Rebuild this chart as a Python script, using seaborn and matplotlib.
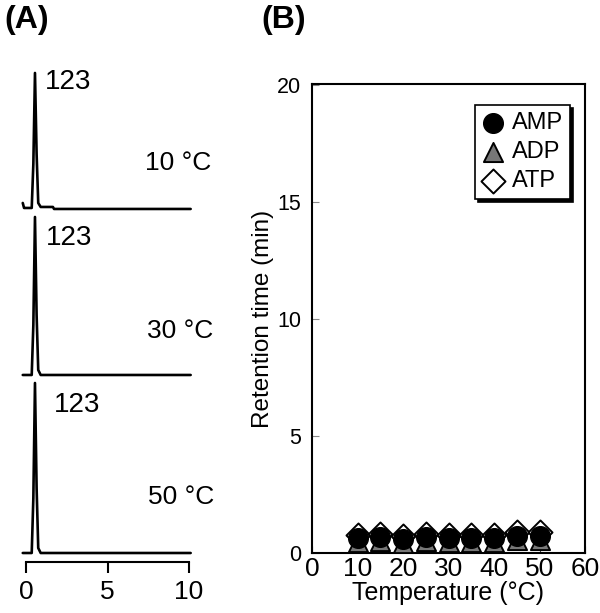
import numpy as np
import pandas as pd
import matplotlib
matplotlib.use("Agg")
import matplotlib.pyplot as plt
import seaborn as sns

# ---------------- data ----------------
# Panel A: chromatogram traces (time in min, signal in arbitrary units)
trace_labels = ["10 \u00b0C", "30 \u00b0C", "50 \u00b0C"]
time_10 = [-0.2, -0.12, -0.02, 0.35, 0.45, 0.55, 0.65, 0.75, 0.9, 1.65, 1.72, 10.1]
sig_10 = [6, 1, 1, 1, 45, 136, 55, 6, 2, 2, 0, 0]
time_30 = [-0.2, 0.35, 0.45, 0.55, 0.65, 0.75, 0.9, 10.1]
sig_30 = [0, 0, 50, 158, 60, 5, 0, 0]
time_50 = [-0.2, 0.35, 0.45, 0.55, 0.65, 0.75, 0.9, 10.1]
sig_50 = [0, 0, 55, 170, 65, 5, 0, 0]
peak_label = "123"

# Panel B: retention time vs temperature
temperature = [10, 15, 20, 25, 30, 35, 40, 45, 50]
amp = [0.62, 0.67, 0.60, 0.67, 0.65, 0.65, 0.64, 0.72, 0.74]
adp = [0.45, 0.50, 0.42, 0.50, 0.48, 0.48, 0.47, 0.55, 0.55]
atp = [0.75, 0.82, 0.72, 0.80, 0.78, 0.78, 0.76, 0.88, 0.88]

# ---------------- style ----------------
sns.set_style("ticks")
plt.rcParams["font.family"] = ["Liberation Sans", "DejaVu Sans"]
plt.rcParams["axes.unicode_minus"] = False
plt.rcParams["text.color"] = "black"
plt.rcParams["axes.labelcolor"] = "black"
plt.rcParams["xtick.color"] = "black"
plt.rcParams["ytick.color"] = "black"

fig = plt.figure(figsize=(6.0, 6.13), dpi=100)

# ---------------- Panel A ----------------
axA = fig.add_axes([0.0352, 0.0832, 0.288, 0.819])
offsets = [353, 187, 9]  # vertical stacking of traces (layout)
traces = [(time_10, sig_10), (time_30, sig_30), (time_50, sig_50)]
for (t, s), off in zip(traces, offsets):
    df = pd.DataFrame({"t": t, "y": np.array(s, dtype=float) + off})
    sns.lineplot(data=df, x="t", y="y", ax=axA, color="black", lw=1.9,
                 sort=False, estimator=None)

axA.set_xlim(-0.3, 10.3)
axA.set_ylim(0, 502)
for sp in ["top", "right", "left"]:
    axA.spines[sp].set_visible(False)
axA.spines["bottom"].set_bounds(0, 10)
axA.spines["bottom"].set_linewidth(1.5)
axA.spines["bottom"].set_color("black")
axA.set_xticks([0, 5, 10])
axA.set_xticklabels(["0", "5", "10"])
axA.set_yticks([])
axA.tick_params(axis="x", direction="out", length=8, width=1.5,
                labelsize=19, pad=5, colors="black")
axA.set_xlabel("")
axA.set_ylabel("")

lab_pos = [(1.17, 480), (1.2, 324), (1.7, 157)]
temp_pos = [(7.3, 399), (7.4, 231), (7.5, 65)]
for (x, y) in lab_pos:
    axA.text(x, y, peak_label, fontsize=20, ha="left", va="center", color="black")
for (x, y), lab in zip(temp_pos, trace_labels):
    axA.text(x, y, lab, fontsize=19, ha="left", va="center", color="black")

fig.text(0.008, 0.968, "(A)", fontsize=23, fontweight="bold",
         ha="left", va="center", color="black")
fig.text(0.435, 0.968, "(B)", fontsize=23, fontweight="bold",
         ha="left", va="center", color="black")

# ---------------- Panel B ----------------
axB = fig.add_axes([0.52, 0.0979, 0.455, 0.765])
dfB = pd.DataFrame({"T": temperature, "AMP": amp, "ADP": adp, "ATP": atp})
sns.scatterplot(data=dfB, x="T", y="ATP", ax=axB, marker="D", s=150,
                color="white", edgecolor="black", linewidth=1.4, label="ATP",
                zorder=3)
sns.scatterplot(data=dfB, x="T", y="ADP", ax=axB, marker="^", s=190,
                color="#777777", edgecolor="black", linewidth=1.4, label="ADP",
                zorder=4)
sns.scatterplot(data=dfB, x="T", y="AMP", ax=axB, marker="o", s=200,
                color="black", edgecolor="black", linewidth=1.0, label="AMP",
                zorder=5)

axB.set_xlim(0, 60)
axB.set_ylim(0, 20.05)
axB.set_xticks([0, 10, 20, 30, 40, 50, 60])
axB.set_yticks([0, 5, 10, 15, 20])
axB.tick_params(axis="x", direction="in", length=5, width=0.8,
                labelsize=19, pad=3, color="#444444", labelcolor="black")
axB.tick_params(axis="y", direction="in", length=5, width=0.8,
                labelsize=15.5, pad=8, color="#888888", labelcolor="black")
for sp in axB.spines.values():
    sp.set_linewidth(1.5)
    sp.set_color("black")
axB.set_xlabel("Temperature (\u00b0C)", fontsize=18, labelpad=0)
axB.set_ylabel("Retention time (min)", fontsize=17.5, labelpad=2)

handles, labels = axB.get_legend_handles_labels()
order = [labels.index(k) for k in ["AMP", "ADP", "ATP"]]
leg = axB.legend([handles[i] for i in order], [labels[i] for i in order],
                 loc="upper left", bbox_to_anchor=(0.597, 0.955),
                 frameon=True, fancybox=False, shadow={"color": "black", "alpha": 1.0},
                 edgecolor="black", fontsize=17, handletextpad=0.35,
                 borderpad=0.3, labelspacing=0.3, handlelength=0.9,
                 borderaxespad=0.0, markerscale=1.0)
leg.get_frame().set_linewidth(1.2)
for txt in leg.get_texts():
    txt.set_color("black")

fig.savefig("out.png", dpi=100)
